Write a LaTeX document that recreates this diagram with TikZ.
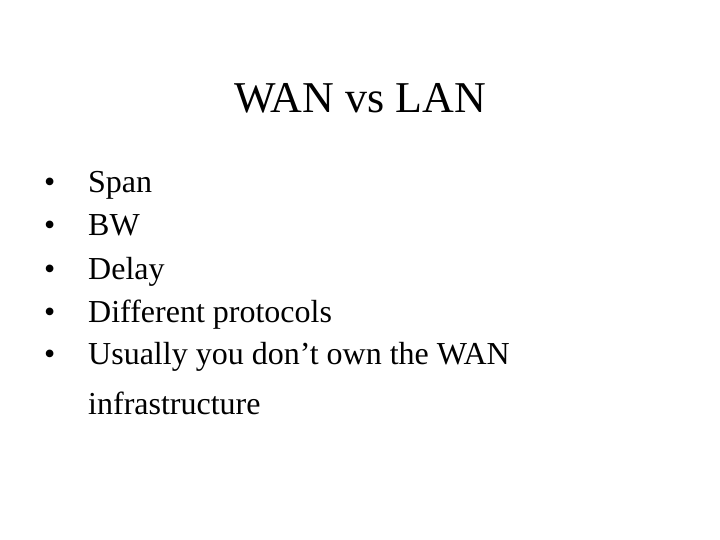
\documentclass[tikz,border=0pt]{standalone}
\usepackage{fontspec}
\setmainfont{Liberation Serif}
\begin{document}
\begin{tikzpicture}[x=1pt,y=-1pt,
  title/.style={font=\fontsize{44}{48}\selectfont,anchor=base,inner sep=0},
  item/.style={font=\fontsize{32}{36}\selectfont,anchor=base west,inner sep=0},
  dot/.style={font=\fontsize{32}{36}\selectfont,anchor=base west,inner sep=0}]
\fill[white] (0,0) rectangle (720,540);
\node[title] (t) at (360,113) {WAN vs LAN};
\foreach \y/\txt [count=\i] in {193/Span,236/BW,279/Delay,322/Different protocols,364/Usually you don’t own the WAN}{
  \node[dot] (b\i) at (44,\y) {•};
  \node[item] (i\i) at (88,\y) {\txt};
}
\node[item] (i6) at (88,414) {infrastructure};
\end{tikzpicture}
\end{document}
